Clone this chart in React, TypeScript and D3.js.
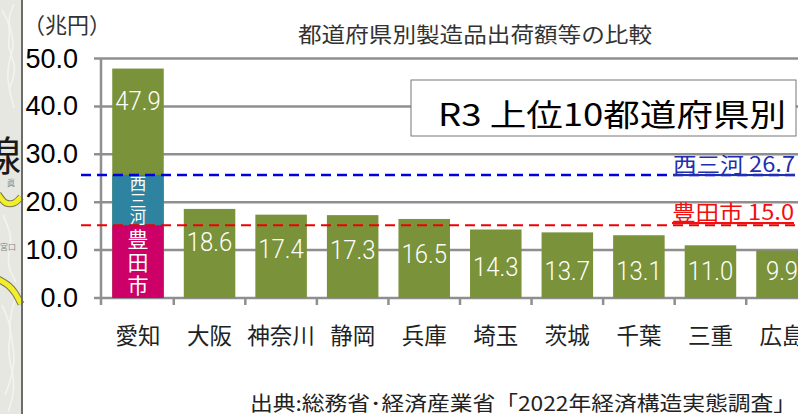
import React from 'react';
import * as d3 from 'd3';

const prefectures = ['愛知', '大阪', '神奈川', '静岡', '兵庫', '埼玉', '茨城', '千葉', '三重', '広島'];
const shipments = [47.9, 18.6, 17.4, 17.3, 16.5, 14.3, 13.7, 13.1, 11.0, 9.9];
const yTicks = [0, 10, 20, 30, 40, 50];

// Aichi is split in three parts, the lines sit where the picture draws them
const toyotaTop = 15.2;
const nishimikawaTop = 25.7;
const toyotaLabel = '豊田市 15.0';
const nishimikawaLabel = '西三河 26.7';

const JP = '"Noto Sans CJK JP", "Noto Sans", sans-serif';
const LATIN = '"Liberation Sans", sans-serif';
const GREEN = '#7a923a';
const GRID = '#8f8f8f';

const W = 798;
const H = 414;

export default function App() {
  const svgRef = React.useRef<SVGSVGElement>(null);

  React.useEffect(() => {
    const svg = d3.select(svgRef.current);
    svg.selectAll('*').remove();

    const x = d3.scaleBand().domain(prefectures).range([102, 818]).paddingInner(0.28).paddingOuter(0.143);
    const y = d3.scaleLinear().domain([0, 50]).range([298, 58.5]);

    svg.append('rect').attr('width', W).attr('height', H).attr('fill', '#fff');

    // map strip on the left, behind the chart
    svg.append('rect').attr('width', 22).attr('height', H).attr('fill', '#e6e7e1');
    const contours = d3.line().curve(d3.curveBasis);
    const wiggles: [number, number][][] = [
      [[2, 10], [12, 28], [6, 48], [18, 66], [9, 90]],
      [[14, 4], [6, 22], [17, 44], [4, 70], [14, 108]],
      [[3, 215], [14, 240], [5, 262], [16, 282]],
      [[2, 305], [13, 330], [6, 352], [17, 385], [8, 412]],
      [[15, 300], [7, 325], [18, 360], [5, 395]],
    ];
    wiggles.forEach((pts) => {
      svg.append('path').attr('d', contours(pts)).attr('fill', 'none').attr('stroke', '#f3f3ef').attr('stroke-width', 1.6);
    });
    const road = d3.line().curve(d3.curveCatmullRom);
    const roads: [number, number][][] = [
      [[-2, 194], [6, 203], [14, 203], [21, 197]],
      [[-2, 279], [9, 286], [15, 293], [21, 304]],
    ];
    roads.forEach((pts) => {
      svg.append('path').attr('d', road(pts)).attr('fill', 'none').attr('stroke', '#77775a').attr('stroke-width', 7);
      svg.append('path').attr('d', road(pts)).attr('fill', 'none').attr('stroke', '#f3ee2a').attr('stroke-width', 5);
    });
    svg.append('text').attr('x', 7).attr('y', 186).attr('font-family', JP).attr('font-size', 8).attr('fill', '#888').text('眞');
    svg.append('text').attr('x', 0).attr('y', 250).attr('font-family', JP).attr('font-size', 8).attr('fill', '#888').text('宮口');
    svg.append('text').attr('x', -20).attr('y', 171).attr('font-family', JP).attr('font-size', 41).attr('fill', '#1a1a1a').text('線');
    svg.append('line').attr('x1', 22).attr('x2', 22).attr('y1', 0).attr('y2', H).attr('stroke', '#6c6c6c').attr('stroke-width', 2);

    svg.append('text').attr('x', 23).attr('y', 33).attr('font-family', JP).attr('font-size', 22).attr('fill', '#333').text('（兆円）');
    svg.append('text').attr('x', 298).attr('y', 42).attr('font-family', JP).attr('font-size', 21).attr('fill', '#333').attr('textLength', 354).attr('lengthAdjust', 'spacingAndGlyphs').text('都道府県別製造品出荷額等の比較');

    // grid and axes
    svg.selectAll('.grid').data(yTicks).enter().append('line').attr('class', 'grid')
      .attr('x1', 94).attr('x2', W).attr('y1', (d) => y(d)).attr('y2', (d) => y(d))
      .attr('stroke', GRID).attr('stroke-width', 2.5);
    svg.append('line').attr('x1', 101).attr('x2', 101).attr('y1', 58).attr('y2', 305).attr('stroke', GRID).attr('stroke-width', 2.5);
    svg.selectAll('.tick-x').data(prefectures).enter().append('line').attr('class', 'tick-x')
      .attr('x1', (d) => x(d)! + x.bandwidth() / 2 + x.step() / 2).attr('x2', (d) => x(d)! + x.bandwidth() / 2 + x.step() / 2)
      .attr('y1', 298).attr('y2', 305).attr('stroke', GRID).attr('stroke-width', 2.5);

    svg.selectAll('.label-y').data(yTicks).enter().append('text').attr('class', 'label-y')
      .attr('x', 78).attr('y', (d) => y(d) + 9).attr('text-anchor', 'end')
      .attr('font-family', LATIN).attr('font-size', 27).attr('fill', '#000')
      .text((d) => d.toFixed(1));

    // bars
    svg.selectAll('.bar').data(prefectures).enter().append('rect').attr('class', 'bar')
      .attr('x', (d) => x(d)!).attr('width', x.bandwidth())
      .attr('y', (_, i) => y(shipments[i])).attr('height', (_, i) => y(0) - y(shipments[i]))
      .attr('fill', GREEN);

    const ax = x(prefectures[0])!;
    svg.append('rect').attr('x', ax).attr('width', x.bandwidth()).attr('y', y(nishimikawaTop)).attr('height', y(toyotaTop) - y(nishimikawaTop)).attr('fill', '#2e83a0');
    svg.append('rect').attr('x', ax).attr('width', x.bandwidth()).attr('y', y(toyotaTop)).attr('height', y(0) - y(toyotaTop)).attr('fill', '#cc0066');

    // value labels, the low bars keep them on one baseline
    const labelY = d3.scaleLinear().domain([18.6, 13.7]).range([251, 280]).clamp(true);
    svg.selectAll('.value').data(prefectures).enter().append('text').attr('class', 'value')
      .attr('transform', (d, i) => {
        const by = i === 0 ? y(shipments[i]) + 41 : labelY(shipments[i]);
        return `translate(${x(d)! + x.bandwidth() / 2},${by}) scale(0.92,1)`;
      })
      .attr('text-anchor', 'middle').attr('font-family', 'Roboto, sans-serif').attr('font-weight', 300).attr('font-size', 26).attr('fill', '#fff')
      .text((_, i) => shipments[i].toFixed(1));

    const cx = ax + x.bandwidth() / 2;
    Array.from('西三河').forEach((c, i) => {
      svg.append('text').attr('x', cx).attr('y', 190 + i * 16.5).attr('text-anchor', 'middle').attr('font-family', JP).attr('font-size', 16.5).attr('fill', '#fff').text(c);
    });
    Array.from('豊田市').forEach((c, i) => {
      svg.append('text').attr('x', cx).attr('y', 247 + i * 23).attr('text-anchor', 'middle').attr('font-family', JP).attr('font-size', 21).attr('fill', '#fff').text(c);
    });

    // category labels
    svg.selectAll('.cat').data(prefectures).enter().append('text').attr('class', 'cat')
      .attr('x', (d) => x(d)! + x.bandwidth() / 2).attr('y', 344).attr('text-anchor', 'middle')
      .attr('font-family', JP).attr('font-size', 22.5).attr('fill', '#222')
      .text((d) => d);

    // reference lines
    svg.append('line').attr('x1', 81).attr('x2', W).attr('y1', y(nishimikawaTop)).attr('y2', y(nishimikawaTop)).attr('stroke', '#0000e6').attr('stroke-width', 2.5).attr('stroke-dasharray', '10 6');
    svg.append('line').attr('x1', 81).attr('x2', W).attr('y1', y(toyotaTop)).attr('y2', y(toyotaTop)).attr('stroke', '#f00000').attr('stroke-width', 2).attr('stroke-dasharray', '10 6');
    svg.append('text').attr('x', 673).attr('y', 172).attr('font-family', JP).attr('font-size', 21).attr('fill', '#1f2fb0').attr('text-decoration', 'underline').attr('textLength', 122).attr('lengthAdjust', 'spacingAndGlyphs').text(nishimikawaLabel);
    svg.append('text').attr('x', 672).attr('y', 220).attr('font-family', JP).attr('font-size', 21).attr('fill', '#f01010').attr('text-decoration', 'underline').attr('textLength', 122).attr('lengthAdjust', 'spacingAndGlyphs').text(toyotaLabel);

    // boxed heading, runs up to the right edge of its box
    svg.append('rect').attr('x', 411).attr('y', 80).attr('width', 385).attr('height', 56).attr('fill', '#fff').attr('stroke', '#777').attr('stroke-width', 1);
    svg.append('text').attr('x', 438).attr('y', 126).attr('font-family', JP).attr('font-size', 31).attr('fill', '#000').attr('textLength', 348).attr('lengthAdjust', 'spacingAndGlyphs').text('R3 上位10都道府県別');

    svg.append('text').attr('x', 250).attr('y', 411).attr('font-family', JP).attr('font-size', 20).attr('fill', '#222').attr('textLength', 546).attr('lengthAdjust', 'spacingAndGlyphs').text('出典:総務省･経済産業省「2022年経済構造実態調査」');
  }, []);

  return <svg ref={svgRef} width={W} height={H} style={{ position: 'fixed', left: 0, top: 0 }}></svg>;
}
